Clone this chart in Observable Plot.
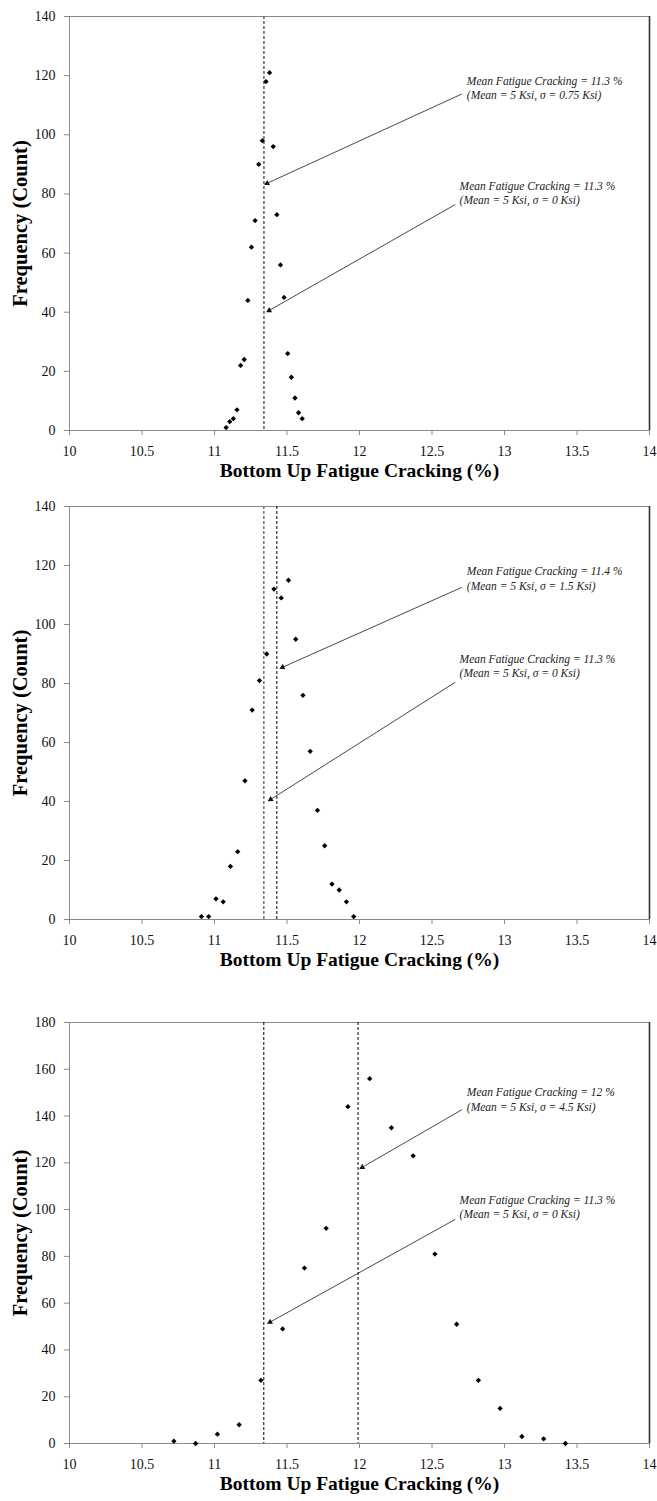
<!DOCTYPE html>
<html>
<head>
<meta charset="utf-8">
<script src="https://cdn.jsdelivr.net/npm/d3@7"></script>
<script src="https://cdn.jsdelivr.net/npm/@observablehq/plot@0.6"></script>
<style>
  html, body { margin: 0; padding: 0; background: #fff; }
  #chart { width: 657px; }
  #chart > div { display: block; line-height: 0; }
  #chart svg { display: block; }
</style>
</head>
<body>
<div id="chart"></div>
<script>
// ---------- data ----------
const xTicks = [10, 10.5, 11, 11.5, 12, 12.5, 13, 13.5, 14];
const yTicks140 = [0, 20, 40, 60, 80, 100, 120, 140];
const yTicks180 = [0, 20, 40, 60, 80, 100, 120, 140, 160, 180];

// Panel 1: sigma = 0.75 Ksi
const p1Cracking = [11.08, 11.105, 11.13, 11.155, 11.18, 11.205, 11.23, 11.255, 11.28, 11.305, 11.33,
                    11.355, 11.38, 11.405, 11.43, 11.455, 11.48, 11.505, 11.53, 11.555, 11.58, 11.605];
const p1Count = [1, 3, 4, 7, 22, 24, 44, 62, 71, 90, 98, 118, 121, 96, 73, 56, 45, 26, 18, 11, 6, 4];
const p1Means = [11.34, 11.34];           // [sigma = 0, sigma = 0.75]

// Panel 2: sigma = 1.5 Ksi
const p2Cracking = [10.91, 10.96, 11.01, 11.06, 11.11, 11.16, 11.21, 11.26, 11.31, 11.36, 11.41,
                    11.46, 11.51, 11.56, 11.61, 11.66, 11.71, 11.76, 11.81, 11.86, 11.91, 11.96];
const p2Count = [1, 1, 7, 6, 18, 23, 47, 71, 81, 90, 112, 109, 115, 95, 76, 57, 37, 25, 12, 10, 6, 1];
const p2Means = [11.34, 11.43];

// Panel 3: sigma = 4.5 Ksi
const p3Cracking = [10.72, 10.87, 11.02, 11.17, 11.32, 11.47, 11.62, 11.77, 11.92, 12.07,
                    12.22, 12.37, 12.52, 12.67, 12.82, 12.97, 13.12, 13.27, 13.42];
const p3Count = [1, 0, 4, 8, 27, 49, 75, 92, 144, 156, 135, 123, 81, 51, 27, 15, 3, 2, 0];
const p3Means = [11.34, 11.99];

const p1Notes = ["Mean Fatigue Cracking = 11.3 %\n(Mean = 5 Ksi, σ = 0.75 Ksi)",
                 "Mean Fatigue Cracking = 11.3 %\n(Mean = 5 Ksi, σ = 0 Ksi)"];
const p2Notes = ["Mean Fatigue Cracking = 11.4 %\n(Mean = 5 Ksi, σ = 1.5 Ksi)",
                 "Mean Fatigue Cracking = 11.3 %\n(Mean = 5 Ksi, σ = 0 Ksi)"];
const p3Notes = ["Mean Fatigue Cracking = 12 %\n(Mean = 5 Ksi, σ = 4.5 Ksi)",
                 "Mean Fatigue Cracking = 11.3 %\n(Mean = 5 Ksi, σ = 0 Ksi)"];

const xTitle = "Bottom Up Fatigue Cracking (%)";
const yTitle = "Frequency (Count)";

// ---------- layout / style ----------
const serif = "'Liberation Serif', 'Times New Roman', 'DejaVu Serif', serif";
const panels = [
  { xs: p1Cracking, ys: p1Count, means: p1Means, yMax: 140, yTicks: yTicks140,
    plotH: 414, gapTop: 0,
    meanStyles: [{stroke: "#000", w: 1}, {stroke: "#7a7a7a", w: 1.6}],
    notes: p1Notes, notePos: [[12.74, 120.4], [12.69, 84.9]],
    arrows: [[12.706, 113.8, 11.363, 83.6], [12.66, 76.4, 11.377, 40.6]] },
  { xs: p2Cracking, ys: p2Count, means: p2Means, yMax: 140, yTicks: yTicks140,
    plotH: 413, gapTop: 2,
    meanStyles: [{stroke: "#7a7a7a", w: 1.6}, {stroke: "#000", w: 1}],
    notes: p2Notes, notePos: [[12.74, 120.1], [12.69, 90.4]],
    arrows: [[12.706, 112.6, 11.469, 85.5], [12.66, 80.4, 11.387, 40.7]] },
  { xs: p3Cracking, ys: p3Count, means: p3Means, yMax: 180, yTicks: yTicks180,
    plotH: 421, gapTop: 29,
    meanStyles: [{stroke: "#000", w: 1}, {stroke: "#000", w: 1}],
    notes: p3Notes, notePos: [[12.74, 152.8], [12.69, 106.8]],
    arrows: [[12.706, 142.7, 12.019, 118.1], [12.66, 95.8, 11.383, 51.9]] }
];

const W = 657, marginTop = 16, marginBottom = 58, marginLeft = 69, marginRight = 8;
const xDomain = [10, 14];

function makePanel(p) {
  const pts = p.xs.map((x, i) => ({x, y: p.ys[i]}));
  const notes = p.notes.map((t, i) => ({text: t, x: p.notePos[i][0], y: p.notePos[i][1]}));
  const kx = (W - marginLeft - marginRight) / (xDomain[1] - xDomain[0]);
  const ky = p.plotH / p.yMax;
  const arrows = p.arrows.map(a => {
    const dxp = (a[2] - a[0]) * kx, dyp = -(a[3] - a[1]) * ky;
    return {x1: a[0], y1: a[1], x2: a[2], y2: a[3],
            angle: Math.atan2(dxp, -dyp) * 180 / Math.PI};
  });
  return Plot.plot({
    width: W,
    height: marginTop + p.plotH + marginBottom,
    marginTop, marginBottom, marginLeft, marginRight,
    style: {fontFamily: serif, background: "#fff", color: "#000", overflow: "visible"},
    x: {domain: xDomain},
    y: {domain: [0, p.yMax]},
    marks: [
      Plot.frame({stroke: "#8a8a8a"}),
      Plot.ruleX([14], {stroke: "#333", strokeWidth: 1.6}),
      Plot.axisX({ticks: xTicks, tickSize: 5, tickPadding: 11, stroke: "#8a8a8a",
                  fill: "#111", fontSize: 14, label: null, tickFormat: d => String(d)}),
      Plot.axisY({ticks: p.yTicks, tickSize: 5, tickPadding: 9, stroke: "#8a8a8a",
                  fill: "#111", fontSize: 14, label: null}),
      ...p.means.map((m, i) => Plot.ruleX([m], {
        stroke: p.meanStyles[i].stroke, strokeWidth: p.meanStyles[i].w, strokeDasharray: "3,2"
      })),
      Plot.link(arrows, {x1: "x1", y1: "y1", x2: "x2", y2: "y2", stroke: "#333", strokeWidth: 0.9}),
      Plot.dot(arrows, {x: "x2", y: "y2", rotate: "angle", symbol: "triangle", r: 2.2,
                        fill: "#111", stroke: "none"}),
      Plot.text(notes, {x: "x", y: "y", text: "text", textAnchor: "start", lineAnchor: "top",
                        fontStyle: "italic", fontSize: 11.5, lineHeight: 1.25, fill: "#222"}),
      Plot.dot(pts, {x: "x", y: "y", symbol: d3.symbolDiamond2, r: 2.4, fill: "#000", stroke: "none"}),
      Plot.text([yTitle], {text: d => d, frameAnchor: "left", dx: -49, rotate: -90,
                           fontWeight: "bold", fontSize: 20.5, textAnchor: "middle", fill: "#000"}),
      Plot.text([xTitle], {text: d => d, frameAnchor: "bottom", dy: 46,
                           fontWeight: "bold", fontSize: 19.5, textAnchor: "middle", fill: "#000"})
    ]
  });
}

const root = document.getElementById("chart");
for (const p of panels) {
  const wrap = document.createElement("div");
  wrap.style.marginTop = p.gapTop + "px";
  wrap.appendChild(makePanel(p));
  root.appendChild(wrap);
}
</script>
</body>
</html>
